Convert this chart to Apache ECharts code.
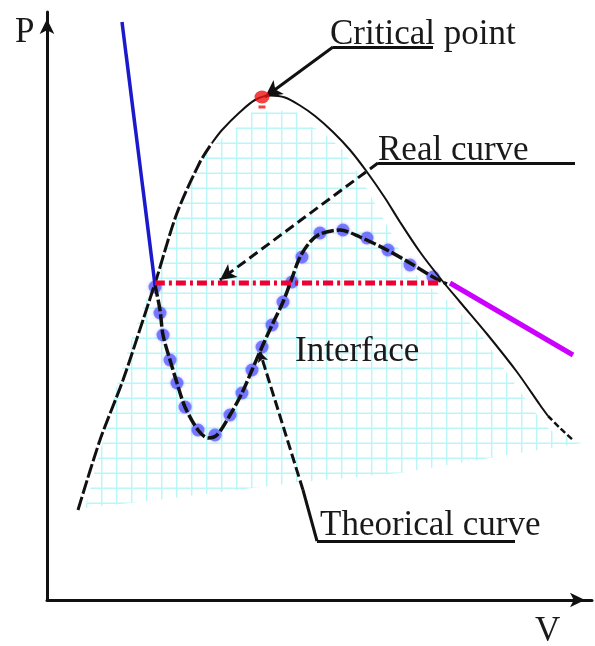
<!DOCTYPE html>
<html>
<head>
<meta charset="utf-8">
<script src="https://cdn.jsdelivr.net/npm/echarts@6/dist/echarts.min.js"></script>
<style>
  html, body { margin: 0; background: #fff; }
  #chart { width: 595px; height: 646px; }
</style>
</head>
<body>
<div id="chart"></div>
<script>
// all points are [V, P] (arbitrary units)
const domeLeft = [[6.2, 18], [10.6, 32], [15.2, 44], [19.2, 56], [22, 64.6], [26, 77.4], [30.6, 87.6], [33, 91.4]];
const domeTop = [[33, 91.4], [35, 94], [38.6, 97.6], [41.6, 100], [44.6, 100.9], [47.6, 100.5], [50.6, 98.9],
  [53.6, 96.8], [57.2, 93.6], [60.6, 90], [64, 85.6], [67.6, 80.4], [70.6, 75.6], [74.6, 69.6], [78.6, 64.4],
  [82.6, 59.6], [88, 53.2], [94, 45.6], [98.6, 39], [100.2, 36.8]];
const domeRight = [[100.2, 36.8], [102.6, 34.4], [105.2, 32]];

// hatched two-phase zone
const hatchShape = [[7.6, 18.4], [10.6, 29.6], [14, 43], [17.2, 53], [20.6, 62], [25.2, 76], [30.6, 87.4],
  [33.2, 91], [38.6, 95], [41, 97.6], [49.6, 98], [51.6, 95], [54.6, 94], [59.2, 90], [62.2, 85.4], [65.2, 80],
  [68.2, 74.6], [71.2, 68.6], [74.6, 64], [80, 60], [86.6, 53.4], [92, 45.4], [97.2, 38], [100.6, 34],
  [107, 31.4], [92, 29], [70.6, 25.4], [50.6, 23.6], [22, 20]];

// theoretical (van der Waals) isotherm
const theoCurve = [[21.6, 63], [22.6, 58], [23.2, 53], [24.6, 48], [26, 43.4], [27.6, 38.6], [30.2, 34],
  [32.2, 32.4], [34, 33], [36.6, 37], [39, 41.4], [41, 46], [43, 50.6], [45, 55], [47.2, 59.6], [49, 64.4],
  [50.6, 68.6], [52.6, 71.6], [54.6, 73.2], [58.6, 74], [62.6, 72.6], [68, 70], [72.6, 67.4], [77.2, 64.6],
  [80, 63.2]];
const theoDots = [[21.6, 62.6], [22.6, 57.4], [23.2, 53], [24.6, 48], [26, 43.4], [27.6, 38.6], [30.2, 34],
  [33.6, 33], [36.6, 37], [39, 41.4], [41, 46], [43, 50.6], [45, 55], [47.2, 59.6], [49, 63.6], [51, 68.6],
  [54.6, 73.4], [59.2, 74], [64, 72.4], [68.2, 70], [72.6, 67], [77.2, 64.6]];

const liquidLine = [[15, 115.6], [21.6, 63]];
const gasLine = [[80.6, 63.4], [105.2, 49]];
const plateau = [[21.6, 63.4], [78.6, 63.4]];
const criticalPoint = [[43, 100.6]];
const criticalMark = [[43, 98.6]];

const labelText = ['Critical point', 'Real curve', 'Interface', 'Theorical curve', 'P', 'V'];
const labelPos = [[56.6, 113], [66.2, 89.8], [49.6, 49.7], [54.6, 14.8], [-6.4, 113.4], [97.6, -6.4]];

// grid cell for the hatch
const cell = document.createElement('canvas');
cell.width = 15;
cell.height = 15;
const g = cell.getContext('2d');
g.strokeStyle = '#b8f6f8';
g.lineWidth = 1.5;
g.beginPath();
g.moveTo(11.7, 0); g.lineTo(11.7, 15);
g.moveTo(0, 8.3); g.lineTo(15, 8.3);
g.stroke();

const ink = '#111';
const chart = echarts.init(document.getElementById('chart'));

const lineSeries = (data, color, width, type, z) => ({
  type: 'line',
  data: data,
  smooth: 0.3,
  showSymbol: false,
  symbol: 'none',
  z: z,
  lineStyle: { color: color, width: width, type: type, cap: 'butt' },
  silent: true
});

chart.setOption({
  animation: false,
  grid: { left: 47, right: 3, top: 12, bottom: 46 },
  xAxis: {
    type: 'value', min: 0, max: 109,
    axisLine: { show: true, symbol: ['none', 'arrow'], symbolSize: [11, 15], symbolOffset: [0, -7],
      lineStyle: { color: ink, width: 3 } },
    axisTick: { show: false }, axisLabel: { show: false }, splitLine: { show: false }
  },
  yAxis: {
    type: 'value', min: 0, max: 117.6,
    axisLine: { show: true, symbol: ['none', 'arrow'], symbolSize: [11, 15], symbolOffset: [0, -7],
      lineStyle: { color: ink, width: 3 } },
    axisTick: { show: false }, axisLabel: { show: false }, splitLine: { show: false }
  },
  series: [
    {
      type: 'custom',
      z: 1,
      data: [0],
      silent: true,
      renderItem: function (params, api) {
        const pts = hatchShape.map(p => api.coord(p));
        return { type: 'polygon', shape: { points: pts }, style: { fill: { image: cell, repeat: 'repeat' } } };
      }
    },
    {
      type: 'scatter',
      data: theoDots,
      z: 2,
      symbolSize: 13,
      silent: true,
      itemStyle: { color: 'rgba(80,80,255,0.82)', shadowBlur: 3, shadowColor: 'rgba(80,80,255,0.6)' }
    },
    lineSeries(domeLeft, ink, 3, [14, 3], 3),
    lineSeries(domeTop, ink, 2, 'solid', 3),
    lineSeries(domeRight, ink, 2.5, [6, 3], 3),
    lineSeries(theoCurve, ink, 3.5, [12, 3], 3),
    lineSeries(liquidLine, '#1a1acc', 3.5, 'solid', 3),
    lineSeries(gasLine, '#cc00ff', 5, 'solid', 3),
    lineSeries(plateau, '#ee0033', 5, [10, 4, 3, 4], 4),
    {
      type: 'scatter',
      data: criticalPoint,
      z: 5,
      symbolSize: [15, 13],
      silent: true,
      itemStyle: { color: '#ee1111' }
    },
    {
      type: 'scatter',
      data: criticalMark,
      z: 5,
      symbol: 'rect',
      symbolSize: [7, 3],
      silent: true,
      itemStyle: { color: '#ee1111' }
    },
    {
      // leader lines of the annotations
      type: 'line',
      data: [],
      z: 6,
      markLine: {
        silent: true,
        symbol: ['none', 'none'],
        label: { show: false },
        emphasis: { disabled: true },
        lineStyle: { color: ink, width: 3, type: 'solid' },
        data: [
          [{ coord: [77.2, 110.6] }, { coord: [57.2, 110.6] }],
          [{ coord: [57.2, 110.6] }, { coord: [43.6, 100.6], symbol: 'arrow', symbolSize: [13, 17] }],
          [{ coord: [105.6, 87.4] }, { coord: [66.2, 87.4] }],
          [{ coord: [66.2, 87.4], lineStyle: { type: [10, 5] } },
            { coord: [34.6, 64], symbol: 'arrow', symbolSize: [12, 16] }],
          [{ coord: [51.2, 22], lineStyle: { type: [10, 4] } },
            { coord: [42.6, 49.6], symbol: 'arrow', symbolSize: [8, 10] }],
          [{ coord: [51.2, 22] }, { coord: [54, 11.8] }],
          [{ coord: [54, 11.8] }, { coord: [93.6, 11.8] }]
        ]
      }
    },
    {
      type: 'custom',
      z: 7,
      data: labelPos,
      silent: true,
      renderItem: function (params, api) {
        const p = api.coord([api.value(0), api.value(1)]);
        return {
          type: 'text',
          x: p[0],
          y: p[1],
          style: {
            text: labelText[params.dataIndex],
            font: '35px "Liberation Serif"',
            fill: '#1a1a1a',
            align: 'left',
            verticalAlign: 'middle'
          }
        };
      }
    }
  ]
});
</script>
</body>
</html>
